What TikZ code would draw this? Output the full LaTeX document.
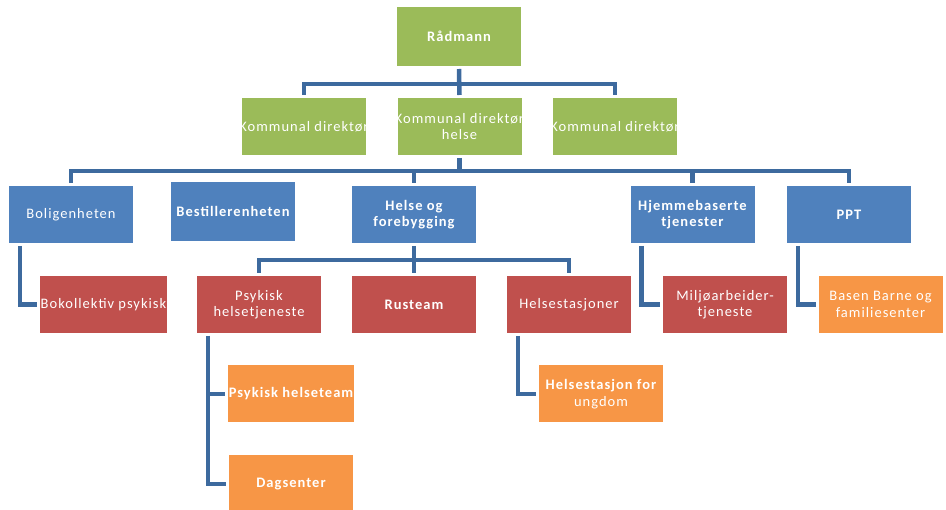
\documentclass[tikz,border=0pt]{standalone}
\usepackage{fontspec}
\setmainfont{Carlito}[LetterSpace=7]
\definecolor{ogreen}{HTML}{9BBB59}
\definecolor{oblue}{HTML}{4F81BD}
\definecolor{ored}{HTML}{C0504D}
\definecolor{oorange}{HTML}{F79646}
\definecolor{wire}{HTML}{3D6A9E}
\tikzset{
  unit/.style={fill=#1, draw=none, text=white, minimum width=124pt, minimum height=57pt,
    inner sep=1pt, outer sep=3pt, align=center, font=\fontsize{14.5}{16.5}\selectfont},
  heavy/.style={font=\fontsize{14.5}{16.5}\selectfont\bfseries},
  cliptext/.style={path picture={\node[text=white, align=center, font=\fontsize{14.5}{16.5}\selectfont]
    at (path picture bounding box.center) {#1};}},
  link/.style={draw=wire, line width=4.5pt},
}
\begin{document}
\begin{tikzpicture}[x=1pt, y=-1pt]
\useasboundingbox (0,0) rectangle (946,510);

% top level
\node[unit=ogreen, heavy, minimum height=59pt] (rad) at (459,36.5) {Rådmann};

% directors (labels wider than the boxes, clipped to them)
\node[unit=ogreen, cliptext={Kommunal direktør}] (k1) at (304,126.5) {};
\node[unit=ogreen, cliptext={Kommunal direktør\\helse}] (k2) at (459.5,126.5) {};
\node[unit=ogreen, cliptext={Kommunal direktør}] (k3) at (615,126.5) {};

% units
\node[unit=oblue] (bolig) at (71,214.5) {Boligenheten};
\node[unit=oblue, heavy, minimum height=59pt] (best) at (233,211.5) {Bestillerenheten};
\node[unit=oblue, heavy] (hf) at (414,214.5) {Helse og\\forebygging};
\node[unit=oblue, heavy] (hjem) at (692.5,214.5) {Hjemmebaserte\\tjenester};
\node[unit=oblue, heavy] (ppt) at (849,214.5) {PPT};

% services
\node[unit=ored] (bokol) at (103.5,304.5) {Bokollektiv psykisk};
\node[unit=ored] (psyk) at (259,304.5) {Psykisk\\helsetjeneste};
\node[unit=ored, heavy] (rus) at (414,304.5) {Rusteam};
\node[unit=ored] (hst) at (569,304.5) {Helsestasjoner};
\node[unit=ored] (milj) at (725,304.5) {Miljøarbeider-\\tjeneste};
\node[unit=oorange] (basen) at (880.5,304.5) {Basen Barne og\\familiesenter};

% teams
\node[unit=oorange, heavy] (pht) at (291,394) {Psykisk helseteam};
\node[unit=oorange, heavy, minimum height=58pt] (dag) at (291,484) {Dagsenter};
\node[unit=oorange] (hsu) at (601,394) {{\bfseries Helsestasjon for}\\ungdom};

% bus levels
\coordinate (bus1) at (0,84);
\coordinate (bus2) at (0,171);
\coordinate (bus3) at (0,260);

% Rådmann -> directors
\draw[link] (rad.south) -- (k2.north);
\draw[link] (k1.north) -- (k1.north |- bus1) -- (k3.north |- bus1) -- (k3.north);

% director helse -> units
\draw[link] (k2.south) -- (k2.south |- bus2);
\draw[link] (bolig.north) -- (bolig.north |- bus2) -- (ppt.north |- bus2) -- (ppt.north);
\draw[link] (hf.north) -- (hf.north |- bus2);
\draw[link] (hjem.north) -- (hjem.north |- bus2);

% Helse og forebygging -> services
\draw[link] (hf.south) -- (rus.north);
\draw[link] (psyk.north) -- (psyk.north |- bus3) -- (hst.north |- bus3) -- (hst.north);

% side branches
\draw[link] ([xshift=14pt]bolig.south west) |- (bokol.west);
\draw[link] ([xshift=14pt]hjem.south west) |- (milj.west);
\draw[link] ([xshift=14pt]ppt.south west) |- (basen.west);
\draw[link] ([xshift=14pt]psyk.south west) |- (pht.west);
\draw[link] ([xshift=14pt]psyk.south west) |- (dag.west);
\draw[link] ([xshift=14pt]hst.south west) |- (hsu.west);
\end{tikzpicture}
\end{document}
